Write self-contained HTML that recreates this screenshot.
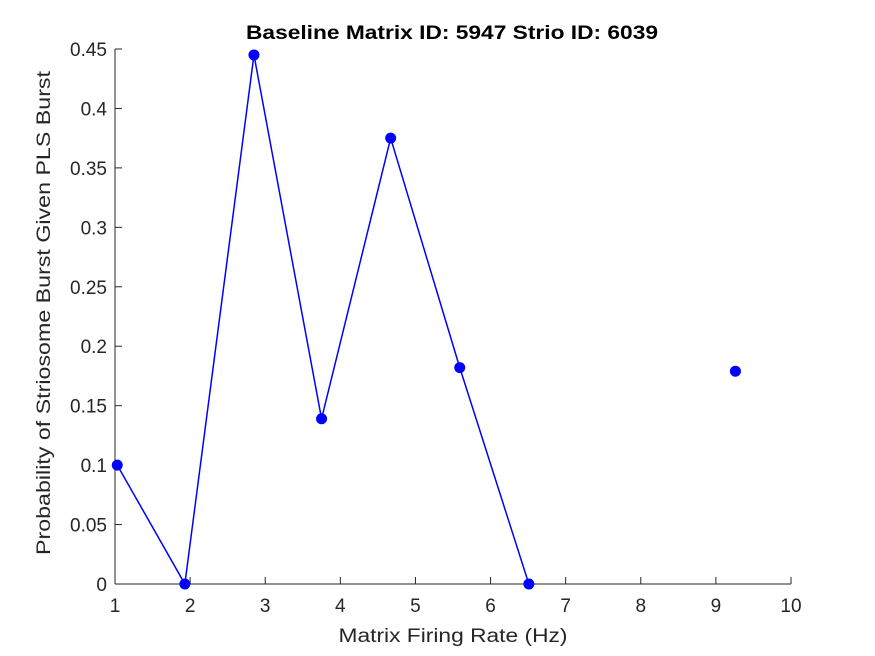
<!DOCTYPE html>
<html>
<head>
<meta charset="utf-8">
<style>
html,body{margin:0;padding:0;background:#fff;}
svg{display:block;font-family:"Liberation Sans",Arial,sans-serif;}
</style>
</head>
<body>
<svg id="chart" width="875" height="656" viewBox="0 0 875 656" xmlns="http://www.w3.org/2000/svg">
<rect width="875" height="656" fill="#fff"/>
<text x="452" y="39" text-anchor="middle" font-size="19" font-weight="bold" fill="#000" textLength="412" lengthAdjust="spacingAndGlyphs">Baseline Matrix ID: 5947 Strio ID: 6039</text>
<g id="axes"></g>
<g id="series"></g>
<text x="453" y="642" text-anchor="middle" font-size="19" fill="#262626" textLength="229" lengthAdjust="spacingAndGlyphs">Matrix Firing Rate (Hz)</text>
<text transform="translate(50,313) rotate(-90)" text-anchor="middle" font-size="19" fill="#262626" textLength="484" lengthAdjust="spacingAndGlyphs">Probability of Striosome Burst Given PLS Burst</text>
</svg>
<script>
const xValues = [1.03, 1.93, 2.85, 3.75, 4.67, 5.59, 6.51, 7.43, 8.35, 9.26];
const yValues = [0.1, 0, 0.445, 0.139, 0.375, 0.182, 0, null, null, 0.179];
const xTicks = [1,2,3,4,5,6,7,8,9,10];
const yTicks = [0,0.05,0.1,0.15,0.2,0.25,0.3,0.35,0.4,0.45];
const yTickLabels = ["0","0.05","0.1","0.15","0.2","0.25","0.3","0.35","0.4","0.45"];

const L=115,R=791,T=49,B=584;
const xs = v => L + (v-1)/(10-1)*(R-L);
const ys = v => B - v/0.45*(B-T);
const NS="http://www.w3.org/2000/svg";
const axes=document.getElementById('axes');
const series=document.getElementById('series');
function mk(tag,attrs,parent){const e=document.createElementNS(NS,tag);for(const k in attrs)e.setAttribute(k,attrs[k]);parent.appendChild(e);return e;}

let e=mk('line',{x1:L,y1:B,x2:R,y2:B,stroke:'#262626','stroke-width':1},axes);


e=mk('line',{x1:L,y1:B,x2:L,y2:T,stroke:'#262626','stroke-width':1},axes);



xTicks.forEach(t=>{
  const x=xs(t);
  let tk=mk('line',{x1:x,y1:B,x2:x,y2:B-7,stroke:'#262626'},axes);
  
  
  let tx=mk('text',{x:x,y:B+28,'text-anchor':'middle','font-size':19,fill:'#262626'},axes);
  tx.textContent=t;
  
  
});
yTicks.forEach((t,i)=>{
  const y=ys(t);
  let tk=mk('line',{x1:L,y1:y,x2:L+7,y2:y,stroke:'#262626'},axes);
  
  
  let tx=mk('text',{x:L-8,y:y+7,'text-anchor':'end','font-size':19,fill:'#262626'},axes);
  tx.textContent=yTickLabels[i];
  
  
});

let d='',pen=false;
xValues.forEach((xv,i)=>{
  const yv=yValues[i];
  if(yv===null){pen=false;return;}
  d+=(pen?'L':'M')+xs(xv)+' '+ys(yv)+' ';
  pen=true;
});
let p=mk('path',{d:d,fill:'none',stroke:'#0000ff','stroke-width':1.5},series);


xValues.forEach((xv,i)=>{
  const yv=yValues[i];
  if(yv===null)return;
  let c=mk('circle',{cx:xs(xv),cy:ys(yv),r:5.5,fill:'#0000ff'},series);
  
  
});
</script>
</body>
</html>
